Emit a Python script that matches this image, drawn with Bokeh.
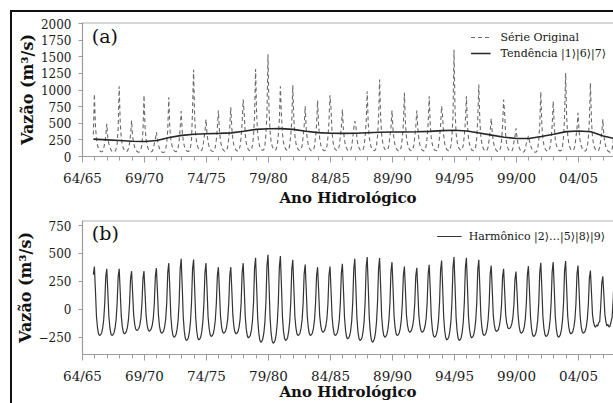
import numpy as np
from bokeh.embed import file_html
from bokeh.layouts import column
from bokeh.models import ColumnDataSource, FixedTicker, Label, Legend, LegendItem, Range1d, Span
from bokeh.plotting import figure
from bokeh.resources import INLINE

# Hydrological-year axis: position = years after 64/65
year_ticks = [0, 5, 10, 15, 20, 25, 30, 35, 40]
year_labels = ["64/65", "69/70", "74/75", "79/80", "84/85", "89/90", "94/95", "99/00", "04/05"]
minor_years = list(range(0, 43))

# Monthly discharge (m³/s); each row starts one month before the wet-season peak
original_rows = [
    [330, 942, 470, 260, 170, 120, 90, 75, 70, 80, 120, 200],
    [300, 494, 280, 190, 140, 100, 80, 70, 68, 78, 110, 190],
    [420, 1058, 520, 280, 180, 125, 95, 78, 72, 82, 120, 200],
    [320, 544, 300, 200, 140, 100, 78, 68, 65, 75, 105, 180],
    [380, 923, 450, 260, 170, 120, 90, 75, 70, 78, 115, 190],
    [260, 369, 250, 170, 120, 90, 72, 62, 60, 70, 110, 200],
    [400, 893, 430, 250, 170, 120, 92, 78, 72, 85, 130, 230],
    [420, 684, 380, 240, 160, 115, 90, 78, 75, 88, 140, 260],
    [700, 1307, 600, 330, 210, 145, 110, 92, 85, 98, 150, 260],
    [380, 559, 340, 220, 150, 110, 88, 78, 75, 88, 140, 250],
    [430, 694, 390, 240, 160, 118, 92, 80, 78, 92, 150, 270],
    [450, 743, 420, 260, 170, 125, 98, 85, 82, 95, 160, 290],
    [520, 858, 650, 330, 200, 140, 105, 90, 85, 100, 170, 310],
    [600, 1316, 640, 350, 220, 150, 115, 98, 92, 105, 175, 330],
    [650, 1541, 700, 380, 230, 160, 120, 100, 95, 110, 180, 330],
    [560, 1058, 620, 340, 210, 150, 115, 98, 92, 105, 170, 320],
    [520, 1072, 560, 320, 200, 145, 110, 95, 90, 102, 165, 300],
    [460, 758, 420, 260, 175, 128, 100, 88, 85, 98, 155, 290],
    [480, 843, 460, 280, 180, 130, 102, 90, 86, 98, 155, 290],
    [520, 923, 720, 360, 210, 145, 110, 95, 90, 102, 160, 300],
    [440, 709, 400, 250, 170, 125, 98, 86, 82, 95, 150, 280],
    [420, 534, 480, 280, 180, 130, 100, 88, 85, 98, 160, 300],
    [520, 983, 500, 290, 190, 135, 105, 92, 88, 100, 165, 310],
    [580, 1158, 600, 330, 210, 148, 112, 96, 92, 104, 165, 300],
    [440, 694, 400, 250, 170, 125, 98, 86, 82, 95, 150, 280],
    [500, 958, 500, 290, 190, 135, 105, 92, 88, 100, 160, 290],
    [440, 694, 420, 260, 175, 128, 100, 88, 85, 98, 155, 290],
    [500, 908, 480, 280, 185, 132, 102, 90, 86, 98, 155, 290],
    [460, 758, 600, 320, 195, 138, 105, 92, 88, 100, 160, 300],
    [600, 1606, 700, 360, 220, 155, 118, 100, 95, 108, 170, 320],
    [520, 908, 480, 280, 185, 132, 102, 90, 86, 98, 150, 280],
    [560, 1083, 540, 300, 190, 135, 102, 88, 82, 92, 140, 260],
    [380, 574, 360, 230, 155, 115, 90, 78, 74, 84, 130, 240],
    [460, 858, 650, 320, 190, 130, 98, 82, 76, 84, 120, 220],
    [300, 425, 280, 190, 135, 100, 80, 70, 66, 74, 110, 200],
    [240, 310, 230, 170, 125, 95, 78, 68, 65, 75, 120, 240],
    [480, 972, 480, 270, 175, 125, 95, 82, 78, 90, 140, 260],
    [470, 833, 450, 260, 175, 128, 100, 88, 85, 98, 155, 290],
    [600, 1257, 600, 330, 205, 145, 110, 95, 90, 102, 160, 290],
    [420, 658, 380, 240, 165, 122, 96, 85, 82, 95, 150, 270],
    [540, 1107, 540, 300, 190, 135, 102, 88, 82, 92, 140, 250],
    [360, 559, 330, 210, 145, 105, 82, 70, 66, 75, 115, 220],
]
original_tail = [420]

# Trend component |1>|6>|7> (m³/s)
trend_years = [0.875, 2, 3, 4, 5, 6, 7, 8, 9, 10, 11, 12, 13, 14, 15, 16, 17, 18, 19, 20, 21,
               22, 23, 24, 25, 26, 27, 28, 29, 30, 31, 32, 33, 34, 35, 36, 37, 38, 39, 40, 41, 42, 43]
trend_values = [262, 250, 240, 230, 226, 240, 285, 318, 335, 343, 348, 356, 380, 408, 418, 420, 408,
                380, 360, 350, 348, 350, 358, 366, 369, 370, 372, 378, 390, 396, 385, 355, 322, 290,
                272, 270, 300, 335, 375, 384, 372, 310, 265]

# Harmonic component |2>...|5>|8>|9> (m³/s), same monthly layout as the original series
harmonic_rows = [
    [310, 383, 170, -60, -165, -220, -235, -228, -212, -170, -95, 50],
    [290, 362, 160, -60, -165, -220, -235, -228, -210, -170, -95, 50],
    [290, 362, 160, -55, -155, -205, -220, -214, -198, -160, -90, 45],
    [275, 341, 150, -50, -135, -178, -190, -185, -172, -140, -80, 45],
    [275, 341, 150, -50, -138, -182, -196, -190, -176, -143, -80, 50],
    [295, 368, 165, -55, -150, -200, -214, -208, -193, -156, -88, 55],
    [330, 413, 185, -65, -175, -233, -250, -243, -225, -180, -100, 60],
    [360, 452, 205, -70, -196, -260, -280, -272, -252, -200, -110, 60],
    [360, 446, 200, -70, -192, -255, -274, -266, -247, -196, -108, 55],
    [330, 413, 185, -65, -170, -227, -244, -237, -220, -176, -98, 50],
    [300, 377, 170, -55, -150, -200, -214, -208, -193, -156, -88, 50],
    [300, 377, 170, -55, -155, -205, -220, -214, -198, -160, -90, 55],
    [330, 413, 185, -65, -180, -238, -256, -249, -230, -185, -102, 60],
    [370, 461, 208, -75, -205, -274, -295, -287, -265, -212, -115, 65],
    [390, 488, 220, -75, -212, -283, -304, -295, -274, -218, -118, 62],
    [380, 476, 215, -70, -196, -260, -280, -272, -252, -200, -110, 58],
    [355, 443, 200, -60, -165, -220, -235, -228, -212, -170, -95, 52],
    [320, 400, 180, -60, -165, -220, -235, -228, -212, -170, -95, 50],
    [300, 377, 170, -55, -145, -190, -205, -200, -185, -150, -85, 50],
    [305, 383, 172, -60, -165, -220, -235, -228, -212, -170, -95, 55],
    [325, 407, 183, -65, -185, -247, -265, -258, -238, -190, -105, 60],
    [360, 452, 205, -70, -196, -260, -280, -272, -252, -200, -110, 62],
    [375, 467, 210, -75, -205, -274, -295, -287, -265, -212, -115, 62],
    [365, 458, 205, -65, -175, -233, -250, -243, -225, -180, -100, 55],
    [338, 422, 190, -60, -165, -220, -235, -228, -212, -170, -95, 50],
    [305, 383, 172, -55, -145, -190, -205, -200, -185, -150, -85, 50],
    [297, 371, 167, -55, -145, -190, -205, -200, -185, -150, -85, 55],
    [318, 398, 180, -65, -175, -233, -250, -243, -225, -180, -100, 60],
    [350, 437, 197, -70, -192, -255, -274, -266, -247, -196, -108, 62],
    [375, 467, 210, -70, -196, -260, -280, -272, -252, -200, -110, 62],
    [370, 461, 208, -65, -180, -238, -256, -249, -230, -185, -102, 55],
    [355, 443, 200, -60, -165, -220, -235, -228, -212, -170, -95, 45],
    [315, 392, 176, -55, -140, -185, -199, -193, -180, -145, -80, 40],
    [290, 362, 163, -50, -122, -163, -175, -170, -158, -128, -72, 45],
    [270, 338, 152, -55, -150, -200, -214, -208, -193, -156, -88, 55],
    [310, 386, 174, -62, -170, -227, -244, -237, -220, -176, -98, 55],
    [333, 416, 187, -62, -170, -227, -244, -237, -220, -176, -98, 58],
    [338, 422, 190, -65, -175, -233, -250, -243, -225, -180, -100, 58],
    [345, 431, 194, -58, -155, -205, -220, -214, -198, -160, -90, 50],
    [315, 392, 176, -55, -150, -200, -214, -208, -193, -156, -88, 45],
    [278, 347, 156, -45, -115, -150, -160, -140, -150, -120, -110, 30],
    [235, 294, 130, -45, -115, -150, -135, -160, -150, -110, -70, 80],
]
harmonic_tail = [300]

first_month = 0.875  # position of the first monthly value on the year axis

FONT = "DejaVu Serif"
AXIS_GREY = "#9c9c9c"
X_END = 42.82


def monthly(rows, tail):
    vals = [v for row in rows for v in row] + list(tail)
    t = first_month + np.arange(len(vals)) / 12.0
    return ColumnDataSource(data=dict(t=t, v=vals))


def make_panel(height, y_start, y_end, y_ticks, top_border, title_standoff):
    p = figure(width=601, height=height, x_range=Range1d(0, X_END), y_range=Range1d(y_start, y_end),
               output_backend="svg", toolbar_location=None,
               min_border_left=70, min_border_right=0, min_border_top=top_border, min_border_bottom=10,
               background_fill_color="white", border_fill_color="white", outline_line_color=None)
    p.grid.visible = False
    p.add_layout(Span(location=y_end, dimension="width", line_color="#b0b0b0", line_width=2))

    xa = p.xaxis[0]
    xa.ticker = FixedTicker(ticks=year_ticks, minor_ticks=minor_years)
    xa.major_label_overrides = {k: lab for k, lab in zip(year_ticks, year_labels)}
    xa.major_tick_in = 0
    xa.major_tick_out = 6
    xa.minor_tick_in = 0
    xa.minor_tick_out = 4
    xa.major_label_standoff = 7
    xa.major_label_text_font_size = "13.5px"
    xa.axis_label = "Ano Hidrológico"
    xa.axis_label_text_font_size = "15px"
    xa.axis_label_standoff = title_standoff
    xa.minor_tick_line_color = AXIS_GREY

    ya = p.yaxis[0]
    ya.ticker = FixedTicker(ticks=y_ticks)
    ya.major_tick_in = 0
    ya.major_tick_out = 4
    ya.minor_tick_line_color = None
    ya.major_label_standoff = 7
    ya.major_label_text_font_size = "12px"
    ya.axis_label = "Vazão (m³/s)"
    ya.axis_label_text_font_size = "16px"
    ya.axis_label_standoff = 1

    for ax in (xa, ya):
        ax.axis_line_color = AXIS_GREY
        ax.axis_line_width = 1.2
        ax.major_tick_line_color = AXIS_GREY
        ax.major_label_text_font = FONT
        ax.major_label_text_color = "#1a1a1a"
        ax.axis_label_text_font = FONT
        ax.axis_label_text_font_style = "bold"
        ax.axis_label_text_color = "#111111"
    return p


def make_legend(items, padding, glyph_width, standoff):
    # an invisible border keeps the legend padding active
    return Legend(items=items, location="top_right", margin=0, padding=padding, spacing=0,
                  glyph_width=glyph_width, glyph_height=16, label_height=16, label_standoff=standoff,
                  label_text_font=FONT, label_text_font_size="11px", label_text_color="#151515",
                  border_line_color="white", border_line_alpha=0, background_fill_alpha=0)


# (a) original series and trend
pa = make_panel(197, 0, 2018, [0, 250, 500, 750, 1000, 1250, 1500, 1750, 2000], 10, 0)
r_orig = pa.line("t", "v", source=monthly(original_rows, original_tail),
                 line_color="#6a6a6a", line_width=1.1, line_dash="4 3")
r_trend = pa.line(trend_years, trend_values, line_color="#262626", line_width=1.6)
pa.add_layout(make_legend([LegendItem(label="Série Original", renderers=[r_orig]),
                           LegendItem(label="Tendência |1⟩|6⟩|7⟩", renderers=[r_trend])], 7, 20, 10))
pa.add_layout(Label(x=0.75, y=1810, text="(a)", text_font=FONT, text_font_size="19px",
                    text_baseline="middle", text_color="#111111"))

# (b) harmonic component
pb = make_panel(194, -405, 795, [-250, 0, 250, 500, 750], 11, -4)
r_harm = pb.line("t", "v", source=monthly(harmonic_rows, harmonic_tail),
                 line_color="#333333", line_width=1.2)
pb.add_layout(make_legend([LegendItem(label="Harmônico |2⟩…|5⟩|8⟩|9⟩", renderers=[r_harm])], 8, 25, 7))
pb.add_layout(Label(x=0.75, y=680, text="(b)", text_font=FONT, text_font_size="19px",
                    text_baseline="middle", text_color="#111111"))

layout = column(pa, pb, spacing=0, margin=(10, 0, 0, 10),
                styles={"border-left": "2px solid #111111", "border-top": "2px solid #111111"})

open("out.html", "w").write(file_html(layout, INLINE))
